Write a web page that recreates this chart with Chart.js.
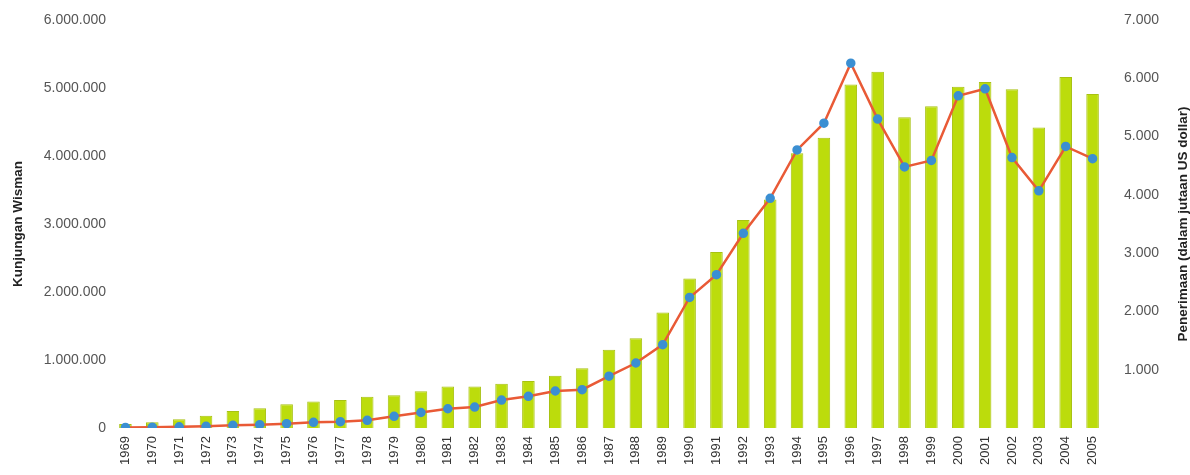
<!DOCTYPE html>
<html>
<head>
<meta charset="utf-8">
<script src="https://cdn.jsdelivr.net/npm/chart.js@4.4.0/dist/chart.umd.min.js"></script>
<style>
    html, body { margin: 0; padding: 0; background: #fff; }
</style>
</head>
<body>
<canvas id="grafico" width="1190" height="475"></canvas>
<script>
const tahun = ['1969', '1970', '1971', '1972', '1973', '1974', '1975', '1976', '1977', '1978',
    '1979', '1980', '1981', '1982', '1983', '1984', '1985', '1986', '1987', '1988',
    '1989', '1990', '1991', '1992', '1993', '1994', '1995', '1996', '1997', '1998',
    '1999', '2000', '2001', '2002', '2003', '2004', '2005'];

// kunjungan wisatawan mancanegara (orang)
const wisman = [60000, 85000, 130000, 180000, 250000, 290000, 350000, 390000, 410000, 460000,
    480000, 540000, 610000, 610000, 650000, 690000, 770000, 880000, 1150000, 1320000,
    1700000, 2200000, 2590000, 3060000, 3360000, 4040000, 4270000, 5050000, 5240000, 4570000,
    4730000, 5020000, 5090000, 4980000, 4420000, 5160000, 4910000];

// penerimaan devisa (juta US dollar)
const penerimaan = [10, 15, 20, 30, 46, 57, 74, 98, 108, 132,
    200, 266, 330, 360, 480, 544, 635, 657, 890, 1115,
    1430, 2240, 2630, 3340, 3940, 4770, 5230, 6260, 5300, 4480,
    4590, 5700, 5820, 4640, 4070, 4830, 4620];

const kiriMax = 6000000;
const kiriStep = 1000000;
const kananMax = 7000;
const kananStep = 1000;

function titik(v) {
    return v.toString().replace(/\B(?=(\d{3})+(?!\d))/g, '.');
}

// judul sumbu kanan dibaca dari bawah ke atas
const judulKanan = {
    id: 'judulKanan',
    afterDraw(chart) {
        const ctx = chart.ctx;
        const area = chart.chartArea;
        ctx.save();
        ctx.translate(1183, (area.top + area.bottom) / 2);
        ctx.rotate(-Math.PI / 2);
        ctx.font = 'bold 13.5px "Liberation Sans", Arial, sans-serif';
        ctx.fillStyle = '#222';
        ctx.textAlign = 'center';
        ctx.textBaseline = 'middle';
        ctx.fillText('Penerimaan (dalam jutaan US dollar)', 0, 0);
        ctx.restore();
    }
};

document.addEventListener('DOMContentLoaded', function () {
    const ctx = document.getElementById('grafico').getContext('2d');

    Chart.defaults.font.family = '"Liberation Sans", Arial, sans-serif';

    new Chart(ctx, {
        type: 'bar',
        data: {
            labels: tahun,
            datasets: [{
                type: 'line',
                label: 'Penerimaan',
                data: penerimaan,
                yAxisID: 'y1',
                borderColor: '#e95a36',
                borderWidth: 2.5,
                pointBackgroundColor: '#3b8fd2',
                pointBorderColor: '#3b8fd2',
                pointRadius: 3.5,
                tension: 0,
                order: 0
            }, {
                label: 'Kunjungan Wisman',
                data: wisman,
                yAxisID: 'y',
                backgroundColor: '#bcdc0c',
                borderColor: '#a8c212',
                borderWidth: 1,
                barPercentage: 0.9,
                categoryPercentage: 0.52,
                order: 1
            }]
        },
        options: {
            responsive: false,
            animation: false,
            devicePixelRatio: 1,
            layout: {
                padding: 0
            },
            plugins: {
                legend: { display: false },
                tooltip: { enabled: false }
            },
            scales: {
                x: {
                    grid: { display: false, drawTicks: false },
                    border: { display: false },
                    ticks: {
                        autoSkip: false,
                        minRotation: 90,
                        maxRotation: 90,
                        padding: 8,
                        color: '#333',
                        font: { size: 13 }
                    },
                    afterFit: function (s) { s.height = 47; }
                },
                y: {
                    position: 'left',
                    min: 0,
                    max: kiriMax,
                    grid: { display: false, drawTicks: false },
                    border: { display: false },
                    ticks: {
                        stepSize: kiriStep,
                        padding: 6,
                        color: '#555',
                        font: { size: 14 },
                        callback: function (v) { return titik(v); }
                    },
                    title: {
                        display: true,
                        text: 'Kunjungan Wisman',
                        color: '#222',
                        font: { size: 13.5, weight: 'bold' },
                        padding: { top: 10, bottom: 0 }
                    },
                    afterFit: function (s) {
                        s.width = 112;
                        s.paddingTop = 20;
                        s.paddingBottom = 10;
                    }
                },
                y1: {
                    position: 'right',
                    min: 0,
                    max: kananMax,
                    grid: { display: false, drawTicks: false },
                    border: { display: false },
                    ticks: {
                        stepSize: kananStep,
                        padding: 18,
                        color: '#555',
                        font: { size: 14 },
                        callback: function (v) { return v === 0 ? '' : titik(v); }
                    },
                    afterFit: function (s) {
                        s.width = 84;
                        s.paddingTop = 20;
                        s.paddingBottom = 10;
                    }
                }
            }
        },
        plugins: [judulKanan]
    });
});
</script>
</body>
</html>
